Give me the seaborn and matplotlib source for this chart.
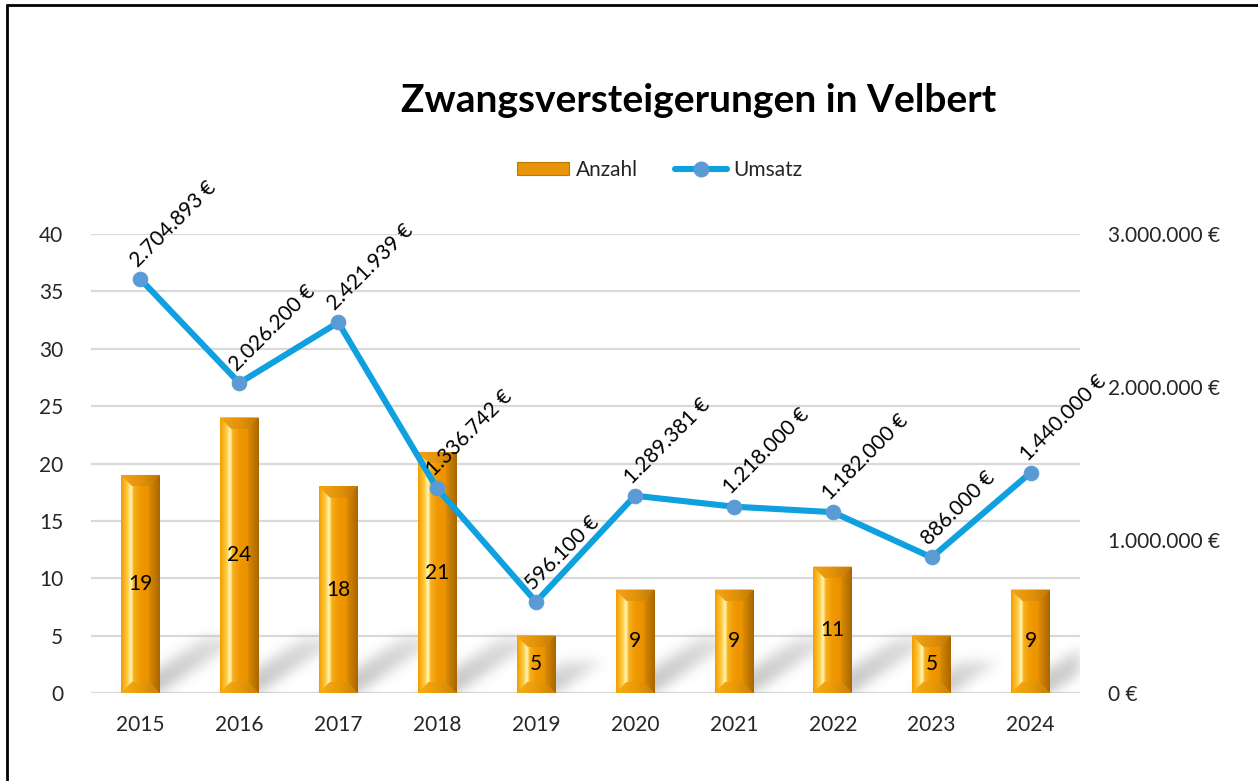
import numpy as np
import pandas as pd
import matplotlib
matplotlib.use("Agg")
import matplotlib.pyplot as plt
import seaborn as sns
from matplotlib.path import Path
from matplotlib.patches import Polygon, Patch
from matplotlib.lines import Line2D
from matplotlib.colors import LinearSegmentedColormap
from matplotlib.ticker import FuncFormatter

# --- data ---------------------------------------------------------------
years = ["2015", "2016", "2017", "2018", "2019", "2020", "2021", "2022", "2023", "2024"]
anzahl = [19, 24, 18, 21, 5, 9, 9, 11, 5, 9]
umsatz = [2704893, 2026200, 2421939, 1336742, 596100, 1289381, 1218000, 1182000, 886000, 1440000]
left_ticks = [0, 5, 10, 15, 20, 25, 30, 35, 40]
right_ticks = [0, 1000000, 2000000, 3000000]
title = "Zwangsversteigerungen in Velbert"


def euro(v, pos=None):
    return f"{v:,.0f} €".replace(",", ".")


sns.set_theme(style="white")
plt.rcParams["font.family"] = ["Lato", "DejaVu Sans"]

W, H, DPI = 1258, 781, 100
FS = 15
fig = plt.figure(figsize=(W / DPI, H / DPI), dpi=DPI)
fig.patch.set_facecolor("white")
ax_l, ax_r, ax_t, ax_b = 91, 1080, 234, 693
ax = fig.add_axes([ax_l / W, 1 - ax_b / H, (ax_r - ax_l) / W, (ax_b - ax_t) / H])

df = pd.DataFrame({"Jahr": years, "Anzahl": anzahl, "Umsatz": umsatz})
sns.barplot(data=df, x="Jahr", y="Anzahl", ax=ax, width=0.39, color="#EE9400",
            saturation=1, zorder=2, linewidth=0)

n = len(years)
XL, YL = (-0.5, n - 0.5), (0, 40)
ax.set_xlim(*XL)
ax.set_ylim(*YL)
ax.set_yticks(left_ticks)
ax.grid(axis="y", color="#D9D9D9", lw=1.6)
ax.grid(axis="x", visible=False)
ax.set_axisbelow(True)
for s in ax.spines.values():
    s.set_visible(False)
ax.set_xlabel("")
ax.set_ylabel("")
ax.tick_params(axis="y", length=0, labelsize=FS, pad=20)
ax.tick_params(axis="x", length=0, labelsize=FS, pad=16)

# pixel size of the axes -> data units per pixel
wpx, hpx = ax_r - ax_l, ax_b - ax_t
dxp = (XL[1] - XL[0]) / wpx
dyp = (YL[1] - YL[0]) / hpx

# --- soft floor shadows behind the bars ----------------------------------
bars = [p for p in ax.patches][:n]
gx, gy = np.meshgrid(np.arange(wpx) + 0.5, np.arange(hpx) + 0.5)
pts = np.column_stack([gx.ravel(), gy.ravel()])
shadow = np.zeros(gx.shape)
for p in bars:
    x0 = (p.get_x() - XL[0]) / dxp
    x1 = x0 + p.get_width() / dxp
    hp = p.get_height() / dyp
    rise = min(0.55 * hp, 55)
    run = rise * 1.5
    poly = Path([(x0, 0), (x1, 0), (x1 + run, rise), (x0 + run, rise), (x0, 0)])
    inside = poly.contains_points(pts).reshape(gx.shape)
    fade = np.clip(1 - 0.5 * gy / max(rise, 1), 0, 1)
    shadow = np.maximum(shadow, inside * fade)


def blur(a, sigma):
    r = int(3 * sigma)
    k = np.exp(-0.5 * (np.arange(-r, r + 1) / sigma) ** 2)
    k /= k.sum()
    a = np.apply_along_axis(lambda m: np.convolve(m, k, mode="same"), 0, a)
    a = np.apply_along_axis(lambda m: np.convolve(m, k, mode="same"), 1, a)
    return a


shadow = blur(shadow, 6)
rgba = np.zeros(shadow.shape + (4,))
rgba[..., :3] = 0.55
rgba[..., 3] = np.clip(shadow * 0.55, 0, 1)
ax.imshow(rgba, extent=[XL[0], XL[1], YL[0], YL[1]], origin="lower",
          aspect="auto", zorder=1.5, interpolation="bilinear")

# --- golden bevelled bars -------------------------------------------------
bev = 11  # bevel depth in pixels
bar_px = bars[0].get_width() / dxp
e = bev / bar_px
gold = LinearSegmentedColormap.from_list("gold", [
    (0.00, "#F29C00"), (e * 0.55, "#FFC83A"), (e * 0.92, "#FFF6BC"), (e, "#FFE27A"),
    (e + 0.04, "#F8B020"), (0.5, "#EF9800"), (1 - e, "#EC9200"),
    (1 - e + 0.01, "#D98A00"), (1.00, "#A86600")])
grad = gold(np.linspace(0, 1, 256))[None, :, :]
for p, val in zip(bars, anzahl):
    x0, w, h = p.get_x(), p.get_width(), p.get_height()
    x1 = x0 + w
    im = ax.imshow(grad, extent=[x0, x1, 0, h], aspect="auto", zorder=2.1,
                   interpolation="bilinear")
    im.set_clip_path(p)
    bx = bev * dxp
    by = min(bev * dyp, h / 2)
    top = Polygon([(x0, h), (x1, h), (x1 - bx, h - by), (x0 + bx, h - by)],
                  closed=True, facecolor="#E3920A", edgecolor="none", zorder=2.2)
    bot = Polygon([(x0, 0), (x1, 0), (x1 - bx, by), (x0 + bx, by)],
                  closed=True, facecolor="#EA9A08", edgecolor="none", zorder=2.2)
    ax.add_patch(top)
    ax.add_patch(bot)
    # soft light along the top edge and darker right corner of the end faces
    for face, cmap in ((top, ["#F2A418", "#E3920A", "#C07808"]),
                       (bot, ["#F6AE14", "#EA9A08", "#C98008"])):
        g = LinearSegmentedColormap.from_list("f", cmap)(np.linspace(0, 1, 64))[None]
        fi = ax.imshow(g, extent=[x0, x1, 0, h], aspect="auto", zorder=2.25,
                       interpolation="bilinear")
        fi.set_clip_path(face)
    ax.text(p.get_x() + w / 2, h / 2, str(val), ha="center", va="center",
            fontsize=FS, color="black", zorder=3)
ax.set_xlim(*XL)
ax.set_ylim(*YL)

# --- revenue line on the secondary axis ------------------------------------
ax2 = ax.twinx()
xpos = np.arange(n)
sns.lineplot(x=xpos, y=umsatz, ax=ax2, color="#0FA0E0", lw=4.4, marker="o",
             markersize=10.5, markerfacecolor="#5B9BD5", markeredgecolor="#5B9BD5",
             zorder=4)
ax2.set_xlim(*XL)
ax2.set_ylim(0, 3000000)
ax2.set_yticks(right_ticks)
ax2.yaxis.set_major_formatter(FuncFormatter(euro))
ax2.tick_params(axis="y", length=0, labelsize=FS, pad=20)
ax2.grid(False)
for s in ax2.spines.values():
    s.set_visible(False)
ax2.set_ylabel("")
for x, v in zip(xpos, umsatz):
    ax2.annotate(euro(v), (x, v), xytext=(0, 6), textcoords="offset points",
                 rotation=45, rotation_mode="anchor", ha="left", va="bottom",
                 fontsize=FS, color="black", zorder=5)

# --- title, legend, frame -------------------------------------------------
fig.text(699 / W, 1 - 100 / H, title, ha="center", va="center",
         fontsize=28, fontweight="bold", color="black")

handles = [
    Patch(facecolor="#E8950A", edgecolor="#C07A00", linewidth=0.8, label="Anzahl"),
    Line2D([], [], color="#0FA0E0", lw=4.4, marker="o", markersize=10.5,
           markerfacecolor="#5B9BD5", markeredgecolor="#5B9BD5", label="Umsatz"),
]
fig.legend(handles=handles, loc="center", bbox_to_anchor=(660 / W, 1 - 170 / H),
           ncol=2, frameon=False, fontsize=FS, handlelength=2.5, handleheight=0.6,
           handletextpad=0.3, columnspacing=1.8)

fig.add_artist(Line2D([7 / W, 7 / W], [0, 1 - 5 / H], transform=fig.transFigure,
                      color="black", lw=2))
fig.add_artist(Line2D([7 / W, 1], [1 - 5 / H, 1 - 5 / H], transform=fig.transFigure,
                      color="black", lw=2))

fig.savefig("out.png", dpi=DPI, facecolor="white")
